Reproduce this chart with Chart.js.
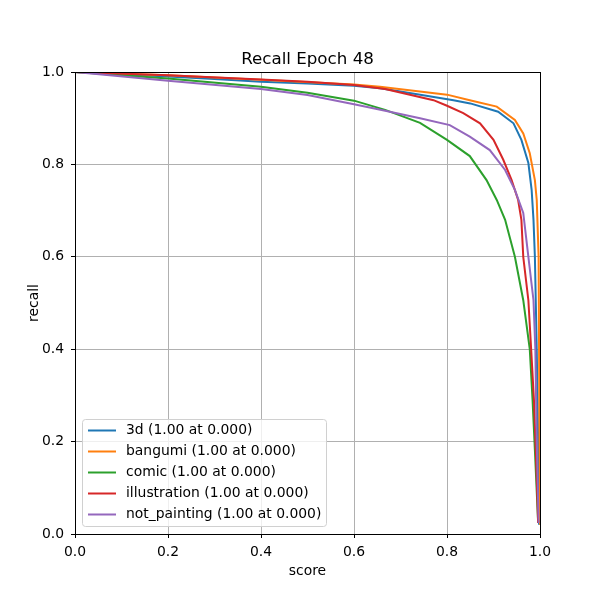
<!DOCTYPE html>
<html>
<head>
<meta charset="utf-8">
<script src="https://cdn.jsdelivr.net/npm/chart.js@4.4.1/dist/chart.umd.min.js"></script>
<style>
    html, body { margin: 0; padding: 0; background: #fff; }
    #wrap { width: 600px; height: 600px; }
</style>
</head>
<body>
<div id="wrap"><canvas id="myChart" width="600" height="600"></canvas></div>
<script>
// Recall par classe ([score, recall])
const labelsAll = [
    "3d (1.00 at 0.000)",
    "bangumi (1.00 at 0.000)",
    "comic (1.00 at 0.000)",
    "illustration (1.00 at 0.000)",
    "not_painting (1.00 at 0.000)"
];
const colors = ['#1f77b4', '#ff7f0e', '#2ca02c', '#d62728', '#9467bd'];

const recall3d = [
    [0, 1.0], [0.1, 0.995], [0.2, 0.99], [0.3, 0.985], [0.4, 0.979], [0.5, 0.975],
    [0.6, 0.97], [0.656, 0.965], [0.7, 0.958], [0.814, 0.939], [0.85, 0.932],
    [0.91, 0.914], [0.943, 0.889], [0.96, 0.853], [0.975, 0.803], [0.982, 0.745],
    [0.986, 0.68], [0.989, 0.6], [0.993, 0.4], [0.996, 0.2], [0.998, 0.02]
];
const recallBangumi = [
    [0, 1.0], [0.2, 0.993], [0.4, 0.983], [0.6, 0.973], [0.656, 0.968], [0.8, 0.951],
    [0.849, 0.939], [0.907, 0.925], [0.946, 0.896], [0.964, 0.867], [0.978, 0.824],
    [0.989, 0.766], [0.993, 0.723], [0.997, 0.6], [0.998, 0.4], [0.999, 0.2], [1.0, 0.02]
];
const recallComic = [
    [0, 1.0], [0.2, 0.986], [0.4, 0.968], [0.5, 0.955], [0.6, 0.938], [0.667, 0.918],
    [0.742, 0.89], [0.8, 0.853], [0.849, 0.818], [0.885, 0.766], [0.907, 0.723],
    [0.925, 0.68], [0.946, 0.6], [0.964, 0.506], [0.978, 0.4], [0.984, 0.29],
    [0.989, 0.182], [0.996, 0.024]
];
const recallIllustration = [
    [0, 1.0], [0.2, 0.993], [0.4, 0.984], [0.5, 0.979], [0.6, 0.972], [0.667, 0.963],
    [0.771, 0.939], [0.8, 0.927], [0.835, 0.911], [0.871, 0.889], [0.9, 0.853],
    [0.921, 0.81], [0.939, 0.766], [0.953, 0.723], [0.96, 0.68], [0.964, 0.6],
    [0.975, 0.506], [0.981, 0.4], [0.987, 0.29], [0.992, 0.15], [0.996, 0.024]
];
const recallNotPainting = [
    [0, 1.0], [0.2, 0.981], [0.4, 0.963], [0.5, 0.95], [0.6, 0.93], [0.667, 0.916],
    [0.742, 0.9], [0.806, 0.885], [0.849, 0.86], [0.892, 0.831], [0.925, 0.788],
    [0.946, 0.745], [0.964, 0.695], [0.975, 0.6], [0.986, 0.506], [0.99, 0.4],
    [0.993, 0.197], [0.997, 0.024]
];
const allSeries = [recall3d, recallBangumi, recallComic, recallIllustration, recallNotPainting];

const xTicks = [0, 0.2, 0.4, 0.6, 0.8, 1.0];
const yTicks = [0, 0.2, 0.4, 0.6, 0.8, 1.0];
const titleText = "Recall Epoch 48";
const xTitle = "score";
const yTitle = "recall";

const FONT = "'DejaVu Sans', sans-serif";

// cadre + titres + légende facon matplotlib
const mplExtras = {
    id: 'mplExtras',
    afterDatasetsDraw(chart) {
        const ctx = chart.ctx;
        const a = chart.chartArea;
        ctx.save();
        ctx.strokeStyle = '#000';
        ctx.lineWidth = 1;
        ctx.strokeRect(a.left + 0.5, a.top + 0.5, a.right - a.left, a.bottom - a.top);

        // titre
        ctx.fillStyle = '#000';
        ctx.font = '16.7px ' + FONT;
        ctx.textAlign = 'center';
        ctx.textBaseline = 'alphabetic';
        ctx.fillText(titleText, (a.left + a.right) / 2, 64);

        // titres des axes
        ctx.font = '13.9px ' + FONT;
        ctx.fillText(xTitle, (a.left + a.right) / 2, 574.5);
        ctx.save();
        ctx.translate(38, (a.top + a.bottom) / 2);
        ctx.rotate(-Math.PI / 2);
        ctx.fillText(yTitle, 0, 0);
        ctx.restore();

        // légende
        const bx = 82.5, by = 419.5, bw = 244, bh = 107;
        ctx.fillStyle = 'rgba(255,255,255,0.8)';
        ctx.strokeStyle = '#d0d0d0';
        ctx.lineWidth = 1;
        ctx.beginPath();
        ctx.roundRect(bx, by, bw, bh, 3);
        ctx.fill();
        ctx.stroke();

        ctx.font = '13.9px ' + FONT;
        ctx.textAlign = 'left';
        ctx.textBaseline = 'middle';
        labelsAll.forEach((lab, i) => {
            const y = 430.5 + i * 21;
            ctx.strokeStyle = colors[i];
            ctx.lineWidth = 2;
            ctx.beginPath();
            ctx.moveTo(88, y);
            ctx.lineTo(116, y);
            ctx.stroke();
            ctx.fillStyle = '#000';
            ctx.fillText(lab, 126, y);
        });
        ctx.restore();
    }
};

const ctx = document.getElementById('myChart').getContext('2d');
const chart = new Chart(ctx, {
    type: 'scatter',
    data: {
        datasets: allSeries.map((s, i) => ({
            label: labelsAll[i],
            data: s.map(p => ({x: p[0], y: p[1]})),
            showLine: true,
            borderColor: colors[i],
            backgroundColor: colors[i],
            borderWidth: 2,
            pointRadius: 0,
            tension: 0,
            order: 5 - i
        }))
    },
    options: {
        responsive: false,
        animation: false,
        layout: { padding: { left: 0, right: 60, top: 72, bottom: 0 } },
        plugins: {
            legend: { display: false },
            tooltip: { enabled: false }
        },
        scales: {
            x: {
                type: 'linear',
                min: 0, max: 1,
                afterBuildTicks: (axis) => { axis.ticks = xTicks.map(v => ({value: v})); },
                afterFit: (axis) => { axis.height = 66; },
                ticks: {
                    color: '#000',
                    font: { family: FONT, size: 13.9 },
                    padding: 6,
                    maxRotation: 0,
                    callback: (v) => v.toFixed(1)
                },
                grid: { color: '#b0b0b0', lineWidth: 1, drawTicks: true, tickLength: 4, tickColor: '#000' },
                border: { display: false },
                title: { display: false }
            },
            y: {
                type: 'linear',
                min: 0, max: 1,
                afterBuildTicks: (axis) => { axis.ticks = yTicks.map(v => ({value: v})); },
                afterFit: (axis) => { axis.width = 75; },
                ticks: {
                    color: '#000',
                    font: { family: FONT, size: 13.9 },
                    padding: 7,
                    callback: (v) => v.toFixed(1)
                },
                grid: { color: '#b0b0b0', lineWidth: 1, drawTicks: true, tickLength: 4, tickColor: '#000' },
                border: { display: false },
                title: { display: false }
            }
        }
    },
    plugins: [mplExtras]
});
</script>
</body>
</html>
